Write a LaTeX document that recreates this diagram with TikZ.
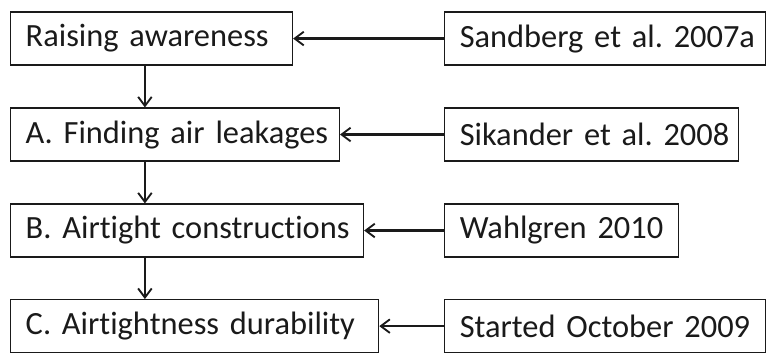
\documentclass[tikz,border=0pt]{standalone}
\usepackage{fontspec}
\setmainfont{Carlito}[Ligatures=NoCommon]
\usetikzlibrary{arrows.meta,positioning,calc}
\definecolor{ink}{HTML}{1A1A1A}
\newcommand{\boxfont}{\fontsize{24.4}{28}\selectfont\frenchspacing\spaceskip=0.16em\relax}

\begin{document}
\begin{tikzpicture}[
  flow/.style={-{Straight Barb[length=2.4mm, width=3.6mm, line width=1.4pt]}, line width=1.6pt, draw=ink},
  stage/.style={draw=ink, line width=0.9pt, fill=white, text=ink, font=\boxfont,
                anchor=west, minimum height=1.40cm,
                inner xsep=0.40cm, inner ysep=0pt},
  source/.style={stage}
]
\useasboundingbox (0,0) rectangle (20.27,-9.525);

% study stages
\node[stage, text width=6.66cm] (raise) at (0.265,-1.02) {\mbox{Raising awareness}};
\node[stage, text width=7.90cm] (leak)  at (0.265,-3.56) {\mbox{A. Finding air leakages}};
\node[stage, text width=8.54cm] (cons)  at (0.265,-6.10) {\mbox{B. Airtight constructions}};
\node[stage, text width=8.94cm] (dura)  at (0.265,-8.63) {\mbox{C. Airtightness durability}};

% references
\node[source, text width=7.69cm] (sand) at (11.75,-1.02) {\mbox{Sandberg et al. 2007a}};
\node[source, text width=6.98cm] (sika) at (11.75,-3.56) {\mbox{Sikander et al. 2008}};
\node[source, text width=5.39cm] (wahl) at (11.75,-6.10) {\mbox{Wahlgren 2010}};
\node[source, text width=7.69cm] (star) at (11.75,-8.63) {\mbox{Started October 2009}};

\draw[flow] ([xshift=3.57cm]raise.south west) -- ([xshift=3.57cm]leak.north west);
\draw[flow] ([xshift=3.57cm]leak.south west) -- ([xshift=3.57cm]cons.north west);
\draw[flow] ([xshift=3.57cm]cons.south west) -- ([xshift=3.57cm]dura.north west);

\draw[flow] (sand) -- (raise);
\draw[flow] (sika) -- (leak);
\draw[flow] (wahl) -- (cons);
\draw[flow] (star) -- (dura);

\end{tikzpicture}
\end{document}
